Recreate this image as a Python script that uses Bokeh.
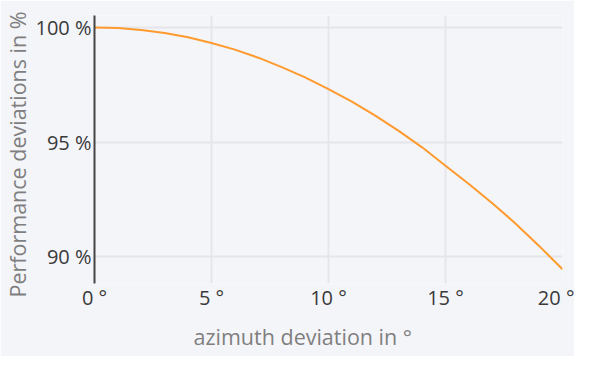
from bokeh.plotting import figure
from bokeh.models import Range1d, FixedTicker, PrintfTickFormatter, Title
from bokeh.embed import file_html
from bokeh.resources import INLINE

# data
azimuth_deviation = [0, 1, 2, 3, 4, 5, 6, 7, 8, 9, 10, 11, 12, 13, 14, 15, 16, 17, 18, 19, 20]
performance = [100.0, 99.97, 99.89, 99.76, 99.57, 99.32, 99.03, 98.68, 98.27, 97.82, 97.31,
               96.76, 96.15, 95.49, 94.77, 93.97, 93.17, 92.33, 91.44, 90.47, 89.45]
x_ticks = [0, 5, 10, 15, 20]
y_ticks = [90, 95, 100]
x_title = "azimuth deviation in °"
y_title = "Performance deviations in %"

BG = "#f4f5f9"
FONT = "Open Sans"

p = figure(width=574, height=356, output_backend="svg", toolbar_location=None,
           x_range=Range1d(0, 20), y_range=Range1d(88.83, 100.52),
           min_border_left=94, min_border_right=12, min_border_top=15, min_border_bottom=73)
p.background_fill_color = BG
p.border_fill_color = BG
p.outline_line_color = None

p.line(azimuth_deviation, performance, line_color="#ff9a2e", line_width=2)

# x axis
p.xaxis.ticker = FixedTicker(ticks=x_ticks)
p.xaxis.formatter = PrintfTickFormatter(format="%d °")
p.xaxis.axis_line_color = None
p.xaxis.major_tick_line_color = None
p.xaxis.minor_tick_line_color = None
p.xaxis.major_label_text_font = FONT
p.xaxis.major_label_text_font_size = "20px"
p.xaxis.major_label_text_color = "#3a3a3a"
p.xaxis.major_label_standoff = -6

# y axis
p.yaxis.ticker = FixedTicker(ticks=y_ticks)
p.yaxis.formatter = PrintfTickFormatter(format="%d %%")
p.yaxis.axis_line_color = "#444444"
p.yaxis.axis_line_width = 2
p.yaxis.major_tick_line_color = None
p.yaxis.minor_tick_line_color = None
p.yaxis.major_label_text_font = FONT
p.yaxis.major_label_text_font_size = "20px"
p.yaxis.major_label_text_color = "#3a3a3a"
p.yaxis.major_label_standoff = -3

# grids
p.xgrid.ticker = FixedTicker(ticks=[5, 10, 15])
p.ygrid.ticker = FixedTicker(ticks=y_ticks)
p.xgrid.grid_line_color = "#e5e6ea"
p.ygrid.grid_line_color = "#e5e6ea"
p.xgrid.grid_line_width = 2
p.ygrid.grid_line_width = 2

# axis titles
p.add_layout(Title(text=x_title, align="left", offset=99, standoff=12,
                   vertical_align="bottom", text_line_height=1.0,
                   text_font=FONT, text_font_size="21.5px", text_font_style="normal",
                   text_color="#7f7f7f"), "below")
p.add_layout(Title(text=y_title, align="left", offset=-14, standoff=1,
                   text_font=FONT, text_font_size="21.5px", text_font_style="normal",
                   text_color="#7f7f7f"), "left")

open("out.html", "w").write(file_html(p, INLINE))
